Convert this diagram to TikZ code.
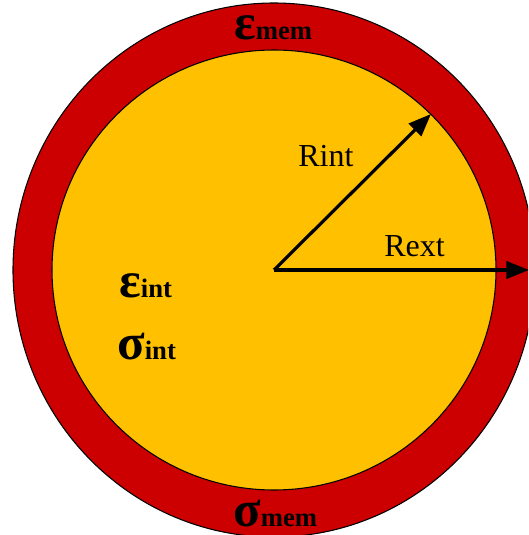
\documentclass[tikz,border=0pt]{standalone}
\usepackage{fontspec}
\setmainfont{Liberation Serif}
\usetikzlibrary{arrows.meta}

\definecolor{memred}{RGB}{204,0,0}
\definecolor{intyellow}{RGB}{255,192,0}

\tikzset{
  radius arrow/.style={-{Triangle[length=17pt,width=13pt]}, line width=2.4pt, black},
  radius label/.style={anchor=base west, inner sep=0pt, font=\fontsize{24}{28}\selectfont},
  greek label/.style={anchor=base west, inner sep=0pt, font=\bfseries\fontsize{38}{42}\selectfont},
}
\newcommand{\sublabel}[1]{{\fontsize{20}{22}\selectfont #1}}

\begin{document}
\begin{tikzpicture}[x=0.75pt, y=-0.75pt]
  \useasboundingbox (0,0) rectangle (528,535);
  \clip (0,0) rectangle (528,535);

  % Membrane and interior
  \coordinate (O) at (274,270);
  \fill[memred, draw=black, line width=0.8pt] (O) ellipse [x radius=195.75pt, y radius=200.25pt];
  \fill[intyellow, draw=black, line width=0.8pt] (O) ellipse [x radius=166.5pt, y radius=165pt];

  % Radii
  \coordinate (rint) at (431,114);
  \coordinate (rext) at (529,270);
  \draw[radius arrow] (O) -- (rint);
  \draw[radius arrow] (O) -- (rext);

  \node[radius label] (lrint) at (298,166) {Rint};
  \node[radius label] (lrext) at (384,256) {Rext};

  % Strain and stress labels
  \node[greek label] (emem) at (234,40) {ε\sublabel{mem}};
  \node[greek label] (smem) at (233,526) {σ\sublabel{mem}};
  \node[greek label] (eint) at (119,297) {ε\sublabel{int}};
  \node[greek label] (sint) at (117,359) {σ\sublabel{int}};

\end{tikzpicture}
\end{document}
